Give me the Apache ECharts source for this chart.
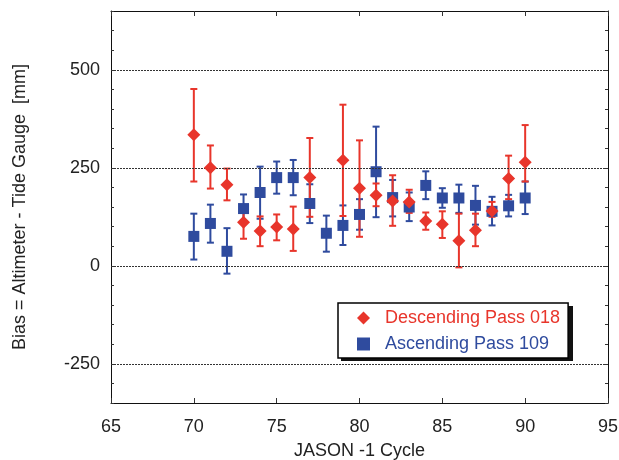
<!DOCTYPE html>
<html>
<head>
<meta charset="utf-8">
<script src="https://cdn.jsdelivr.net/npm/echarts@6/dist/echarts.min.js"></script>
<style>
  html, body { margin: 0; padding: 0; background: #fff; }
  #chart { width: 619px; height: 460px; }
</style>
</head>
<body>
<div id="chart"></div>
<script>
// 数据
let descCycles = [70, 71, 72, 73, 74, 75, 76, 77, 79, 80, 81, 82, 83, 84, 85, 86, 87, 88, 89, 90]
let descValues = [334, 250, 207, 111, 89, 99, 94, 225, 269, 198, 180, 165, 163, 114, 106, 64, 91, 140, 223, 264]
let descLow = [215, 197, 167, 69, 50, 65, 38, 125, 127, 74, 152, 102, 135, 92, 71, -4, 50, 125, 170, 215]
let descHigh = [451, 307, 248, 152, 126, 131, 151, 326, 411, 320, 210, 231, 194, 136, 139, 133, 133, 163, 281, 359]

let ascCycles = [70, 71, 72, 73, 74, 75, 76, 77, 78, 79, 80, 81, 82, 83, 84, 85, 86, 87, 88, 89, 90]
let ascValues = [75, 108, 37, 146, 187, 225, 225, 159, 83, 103, 131, 240, 174, 150, 205, 173, 173, 154, 139, 153, 173]
let ascLow = [16, 59, -20, 110, 120, 184, 180, 109, 36, 53, 92, 124, 126, 114, 170, 148, 135, 105, 103, 126, 132]
let ascHigh = [133, 156, 96, 182, 253, 266, 270, 208, 128, 154, 170, 355, 219, 187, 241, 198, 207, 204, 176, 181, 215]

let gridValues = [500, 250, 0, -250]

let red = '#e8352b'
let blue = '#2f4b9e'
let font = '"Liberation Sans", Arial, sans-serif'

let _$ = (dom) => document.querySelector(dom)

let zip = (xs, ys) => xs.map((x, i) => [x, ys[i]])
let zip3 = (xs, a, b) => xs.map((x, i) => [x, a[i], b[i]])

// 误差线
let errorBar = (color) => (params, api) => {
    let p1 = api.coord([api.value(0), api.value(1)])
    let p2 = api.coord([api.value(0), api.value(2)])
    let cap = 3.5
    let style = { stroke: color, lineWidth: 2 }
    return {
        type: 'group',
        children: [
            { type: 'line', shape: { x1: p1[0], y1: p1[1], x2: p2[0], y2: p2[1] }, style: style },
            { type: 'line', shape: { x1: p1[0] - cap, y1: p1[1], x2: p1[0] + cap, y2: p1[1] }, style: style },
            { type: 'line', shape: { x1: p2[0] - cap, y1: p2[1], x2: p2[0] + cap, y2: p2[1] }, style: style }
        ]
    }
}

let frameLine = { show: true, onZero: false, lineStyle: { color: '#111', width: 1 } }

let option = {
    animation: false,
    grid: { left: 111, right: 11, top: 11, bottom: 57, outerBoundsMode: 'none' },
    // 图例阴影
    graphic: [{
        type: 'rect',
        left: 341,
        top: 306,
        shape: { width: 232, height: 55 },
        style: { fill: '#111' },
        z: 3
    }],
    legend: {
        left: 338,
        top: 303,
        orient: 'vertical',
        padding: [6, 8, 5, 19],
        itemGap: 8,
        itemWidth: 13,
        itemHeight: 13,
        backgroundColor: '#fff',
        borderColor: '#000',
        borderWidth: 1.5,
        borderRadius: 0,
        z: 10,
        textStyle: { fontFamily: font, fontSize: 18, padding: [0, 0, 0, 10] },
        data: [
            { name: 'Descending Pass 018', icon: 'diamond', textStyle: { color: red } },
            { name: 'Ascending Pass 109', icon: 'rect', textStyle: { color: blue } }
        ]
    },
    xAxis: [{
        type: 'value',
        min: 65,
        max: 95,
        interval: 5,
        name: 'JASON -1 Cycle',
        nameLocation: 'middle',
        nameGap: 39,
        nameTextStyle: { fontFamily: font, fontSize: 18, color: '#222' },
        axisLine: frameLine,
        axisTick: { show: true, inside: true, length: 5, lineStyle: { color: '#333' } },
        axisLabel: { fontFamily: font, fontSize: 18, color: '#222', margin: 15 },
        splitLine: { show: false }
    }, {
        type: 'value',
        position: 'top',
        min: 65,
        max: 95,
        interval: 5,
        axisLine: frameLine,
        axisTick: { show: true, inside: true, length: 5, lineStyle: { color: '#333' } },
        axisLabel: { show: false },
        splitLine: { show: false }
    }],
    yAxis: [{
        type: 'value',
        min: -350,
        max: 650,
        interval: 50,
        name: 'Bias = Altimeter - Tide Gauge  [mm]',
        nameLocation: 'middle',
        nameGap: 82,
        nameTextStyle: { fontFamily: font, fontSize: 18, color: '#222' },
        axisLine: frameLine,
        axisTick: { show: true, inside: true, length: 3, lineStyle: { color: '#333' } },
        axisLabel: {
            fontFamily: font, fontSize: 18, color: '#222', margin: 11,
            formatter: (v) => (v % 250 === 0 ? String(v) : '')
        },
        splitLine: { show: false }
    }, {
        type: 'value',
        position: 'right',
        min: -350,
        max: 650,
        interval: 50,
        axisLine: frameLine,
        axisTick: { show: true, inside: true, length: 3, lineStyle: { color: '#333' } },
        axisLabel: { show: false },
        splitLine: { show: false }
    }],
    series: [{
        name: 'grid',
        type: 'scatter',
        data: [],
        silent: true,
        markLine: {
            silent: true,
            symbol: 'none',
            label: { show: false },
            lineStyle: { color: '#333', type: [2, 1], width: 1 },
            data: gridValues.map(v => ({ yAxis: v }))
        }
    }, {
        name: 'ascErr',
        type: 'custom',
        renderItem: errorBar(blue),
        data: zip3(ascCycles, ascLow, ascHigh),
        z: 2
    }, {
        name: 'descErr',
        type: 'custom',
        renderItem: errorBar(red),
        data: zip3(descCycles, descLow, descHigh),
        z: 3
    }, {
        name: 'Ascending Pass 109',
        type: 'scatter',
        symbol: 'rect',
        symbolSize: 11,
        itemStyle: { color: blue, opacity: 1 },
        data: zip(ascCycles, ascValues),
        z: 4
    }, {
        name: 'Descending Pass 018',
        type: 'scatter',
        symbol: 'diamond',
        symbolSize: 13,
        itemStyle: { color: red, opacity: 1 },
        data: zip(descCycles, descValues),
        z: 5
    }]
}

let myChart = echarts.init(_$('#chart'), null, { renderer: 'canvas' })
myChart.setOption(option)
</script>
</body>
</html>
